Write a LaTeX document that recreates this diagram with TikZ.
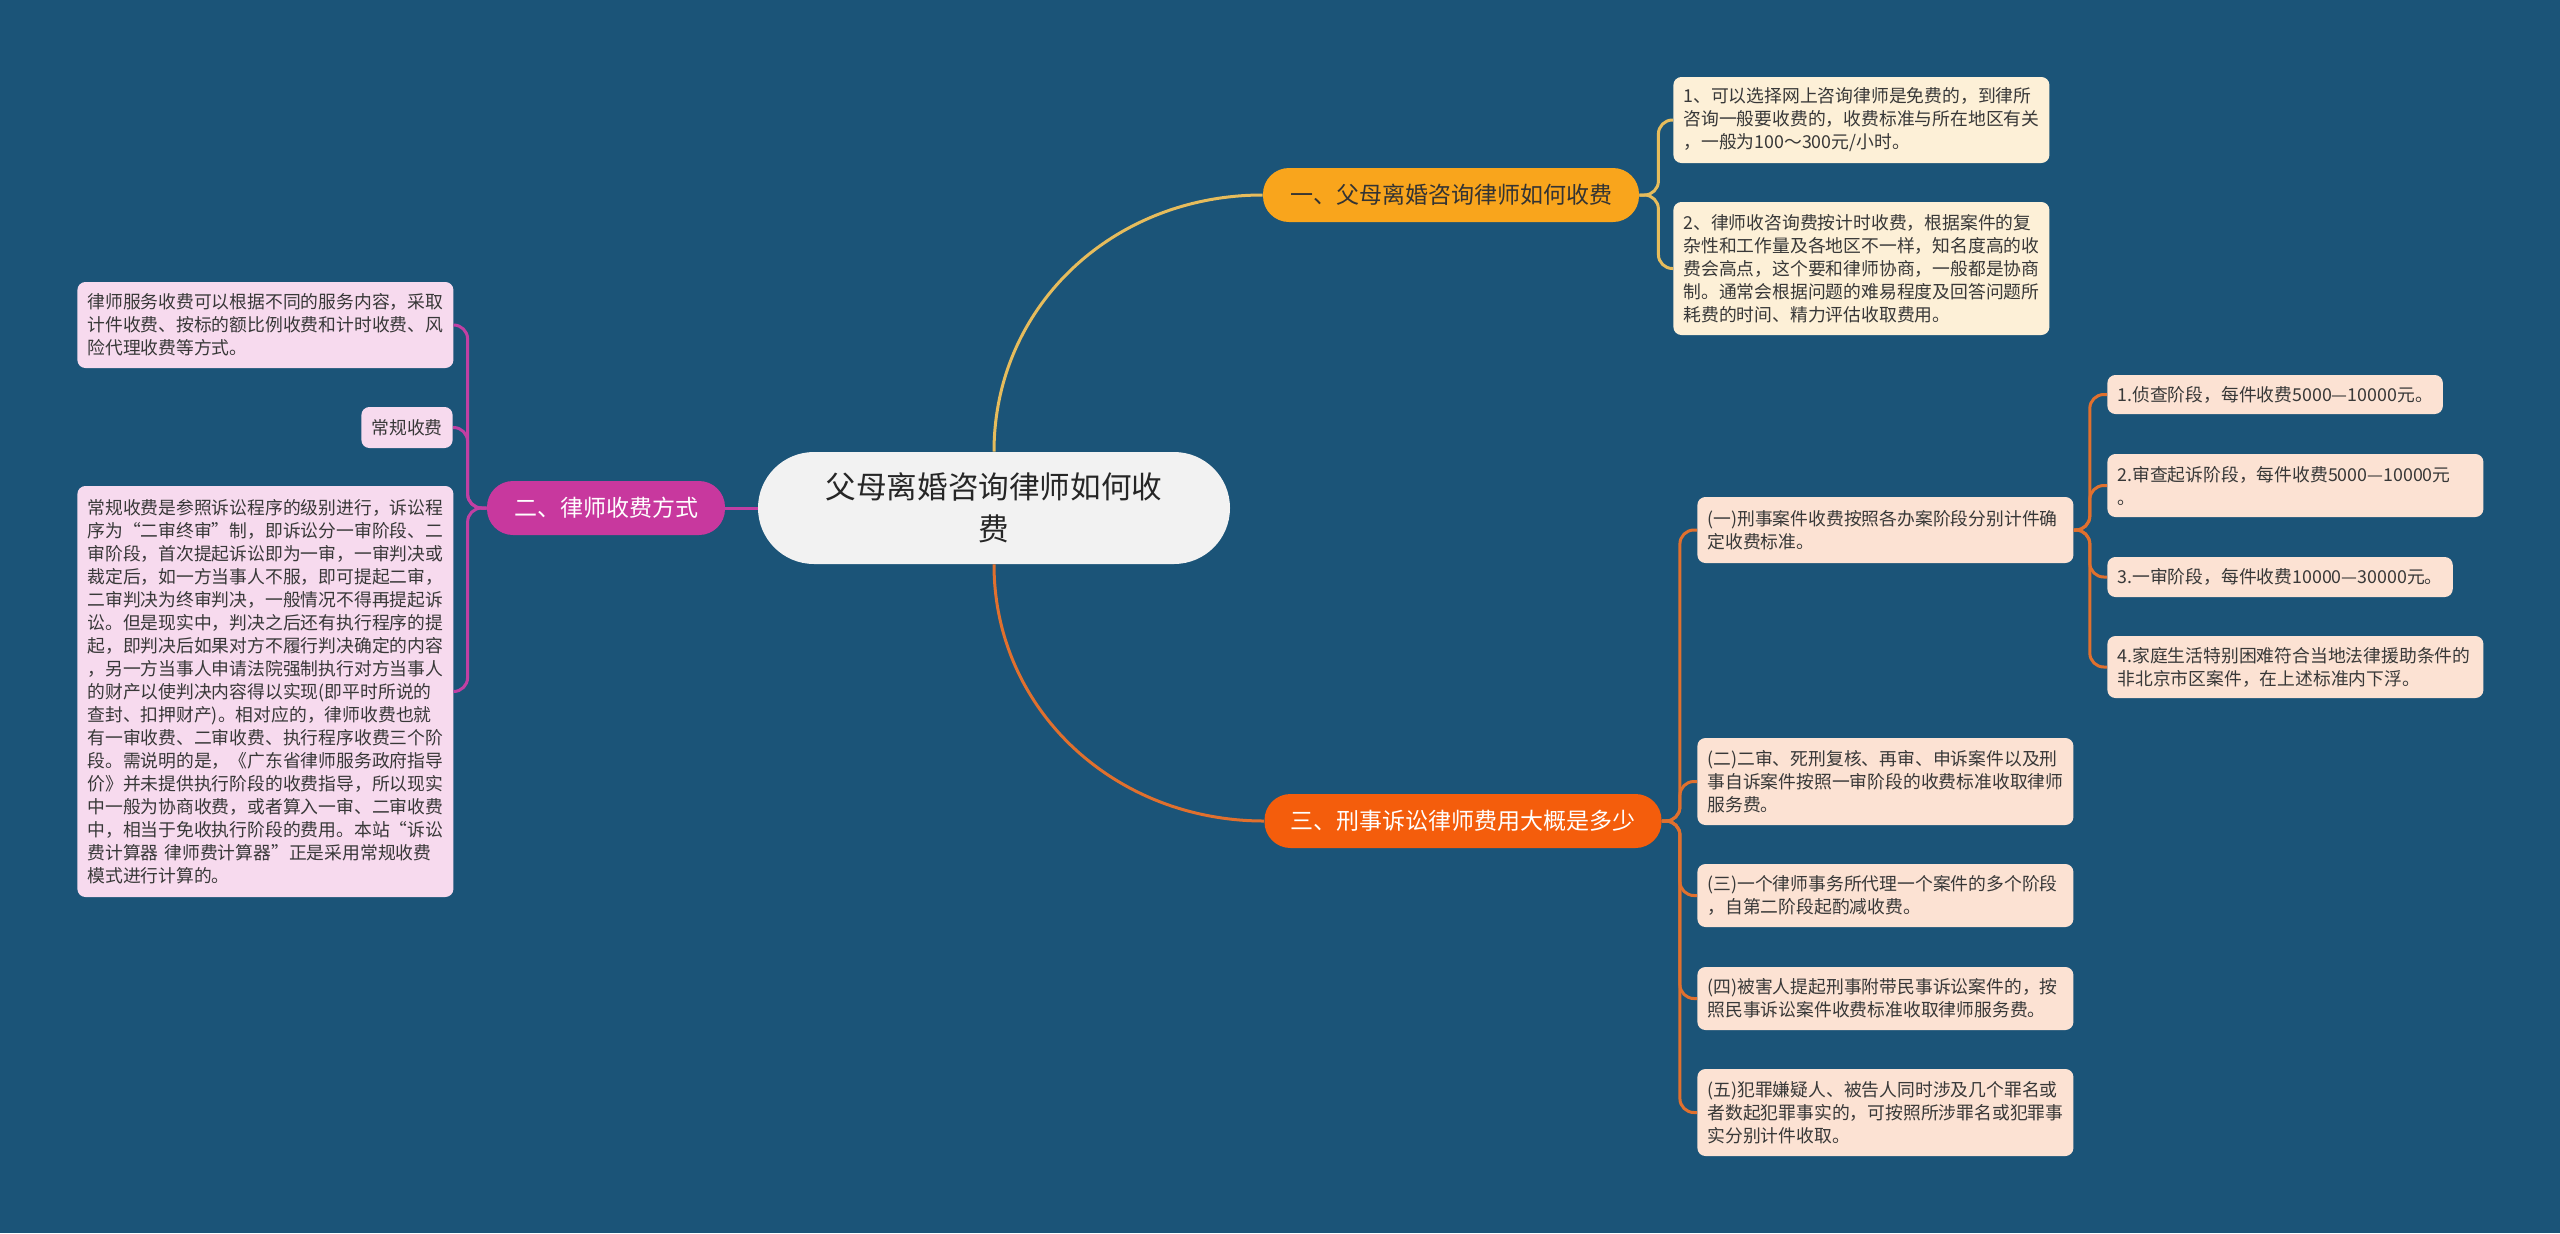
\documentclass[tikz,border=0pt]{standalone}
\usepackage{fontspec}
\setmainfont{Noto Sans CJK SC}
\XeTeXlinebreaklocale "zh"
\definecolor{bg}{HTML}{1B5478}
\definecolor{rootFill}{HTML}{F2F2F2}
\definecolor{oneFill}{HTML}{F9A51C}
\definecolor{oneLine}{HTML}{E6BC5C}
\definecolor{twoFill}{HTML}{C8389E}
\definecolor{twoLine}{HTML}{C13FA3}
\definecolor{threeFill}{HTML}{F45D0C}
\definecolor{threeLine}{HTML}{E0702E}
\definecolor{aFill}{HTML}{FDF0D7}
\definecolor{bFill}{HTML}{F7DAEE}
\definecolor{cFill}{HTML}{FCE2D3}

\begin{document}
\begin{tikzpicture}[x=0.5pt,y=-0.5pt,
    leaf/.style={rounded corners=4pt,inner xsep=5pt,inner ysep=2pt,anchor=west,
      align=left,text=black!78,font=\fontsize{8.9pt}{11.5pt}\selectfont},
    wide/.style={text width=178pt},
    topic/.style={rounded corners=13pt,minimum height=27pt,inner xsep=0pt,
      font=\fontsize{11.5pt}{14pt}\selectfont},
    trunk/.style={line width=1.5pt},
    link/.style={line width=1.5pt,rounded corners=7pt}]
  \fill[bg] (0,0) rectangle (2560,1233);
  \useasboundingbox (0,0) rectangle (2560,1233);

  % centre and main topics
  \node[fill=rootFill,text=black!85,rounded corners=28pt,minimum width=236pt,
    minimum height=56pt,align=center,font=\fontsize{15.3pt}{21pt}\selectfont]
    (root) at (994,508) {父母离婚咨询律师如何收\\费};
  \node[topic,fill=oneFill,text=black!80,minimum width=188pt] (one) at (1451,195)
    {一、父母离婚咨询律师如何收费};
  \node[topic,fill=twoFill,text=white,minimum width=119pt] (two) at (606,508)
    {二、律师收费方式};
  \node[topic,fill=threeFill,text=white,minimum width=198.5pt] (three) at (1463,821)
    {三、刑事诉讼律师费用大概是多少};

  % branch one
  \node[leaf,wide,fill=aFill,minimum height=43pt] (a1) at (1673,120)
    {1、可以选择网上咨询律师是免费的，到律所\\咨询一般要收费的，收费标准与所在地区有关\\，一般为100～300元/小时。};
  \node[leaf,wide,fill=aFill,minimum height=66.5pt] (a2) at (1673,268.5)
    {2、律师收咨询费按计时收费，根据案件的复\\杂性和工作量及各地区不一样，知名度高的收\\费会高点，这个要和律师协商，一般都是协商\\制。通常会根据问题的难易程度及回答问题所\\耗费的时间、精力评估收取费用。};

  % branch two
  \node[leaf,wide,fill=bFill,minimum height=43pt] (b1) at (77,325)
    {律师服务收费可以根据不同的服务内容，采取\\计件收费、按标的额比例收费和计时收费、风\\险代理收费等方式。};
  \node[leaf,fill=bFill,minimum height=20.5pt,anchor=east] (b2) at (453,427.5)
    {常规收费};
  \node[leaf,wide,fill=bFill,minimum height=205.5pt] (b3) at (77,691.5)
    {常规收费是参照诉讼程序的级别进行，诉讼程\\序为“二审终审”制，即诉讼分一审阶段、二\\审阶段，首次提起诉讼即为一审，一审判决或\\裁定后，如一方当事人不服，即可提起二审，\\二审判决为终审判决，一般情况不得再提起诉\\讼。但是现实中，判决之后还有执行程序的提\\起，即判决后如果对方不履行判决确定的内容\\，另一方当事人申请法院强制执行对方当事人\\的财产以使判决内容得以实现(即平时所说的\\查封、扣押财产)。相对应的，律师收费也就\\有一审收费、二审收费、执行程序收费三个阶\\段。需说明的是，《广东省律师服务政府指导\\价》并未提供执行阶段的收费指导，所以现实\\中一般为协商收费，或者算入一审、二审收费\\中，相当于免收执行阶段的费用。本站“诉讼\\费计算器 律师费计算器”正是采用常规收费\\模式进行计算的。};

  % branch three
  \node[leaf,wide,fill=cFill,minimum height=33pt] (c1) at (1697,530)
    {(一)刑事案件收费按照各办案阶段分别计件确\\定收费标准。};
  \node[leaf,wide,fill=cFill,minimum height=43.5pt] (c2) at (1697,781.5)
    {(二)二审、死刑复核、再审、申诉案件以及刑\\事自诉案件按照一审阶段的收费标准收取律师\\服务费。};
  \node[leaf,wide,fill=cFill,minimum height=31.5pt] (c3) at (1697,895.5)
    {(三)一个律师事务所代理一个案件的多个阶段\\，自第二阶段起酌减收费。};
  \node[leaf,wide,fill=cFill,minimum height=31.5pt] (c4) at (1697,998.5)
    {(四)被害人提起刑事附带民事诉讼案件的，按\\照民事诉讼案件收费标准收取律师服务费。};
  \node[leaf,wide,fill=cFill,minimum height=43.5pt] (c5) at (1697,1112.5)
    {(五)犯罪嫌疑人、被告人同时涉及几个罪名或\\者数起犯罪事实的，可按照所涉罪名或犯罪事\\实分别计件收取。};
  \node[leaf,fill=cFill,minimum height=19.5pt] (d1) at (2107,394.5)
    {1.侦查阶段，每件收费5000—10000元。};
  \node[leaf,wide,fill=cFill,minimum height=31.5pt] (d2) at (2107,485.5)
    {2.审查起诉阶段，每件收费5000—10000元\\。};
  \node[leaf,fill=cFill,minimum height=20pt] (d3) at (2107,577)
    {3.一审阶段，每件收费10000—30000元。};
  \node[leaf,wide,fill=cFill,minimum height=31pt] (d4) at (2107,667)
    {4.家庭生活特别困难符合当地法律援助条件的\\非北京市区案件，在上述标准内下浮。};

  % connectors
  \draw[trunk,oneLine] (root.north) .. controls +(0,-145) and +(-150,0) .. (one.west);
  \draw[trunk,threeLine] (root.south) .. controls +(0,145) and +(-150,0) .. (three.west);
  \draw[trunk,twoLine] (root.west) -- (two.east);
  \foreach \n in {a1,a2}
    \draw[link,oneLine] (one.east) -- ++(19,0) |- (\n.west);
  \foreach \n in {b1,b2,b3}
    \draw[link,twoLine] (two.west) -- ++(-19,0) |- (\n.east);
  \foreach \n in {c1,c2,c3,c4,c5}
    \draw[link,threeLine] (three.east) -- ++(18,0) |- (\n.west);
  \foreach \n in {d1,d2,d3,d4}
    \draw[link,threeLine] (c1.east) -- ++(16,0) |- (\n.west);
\end{tikzpicture}
\end{document}
